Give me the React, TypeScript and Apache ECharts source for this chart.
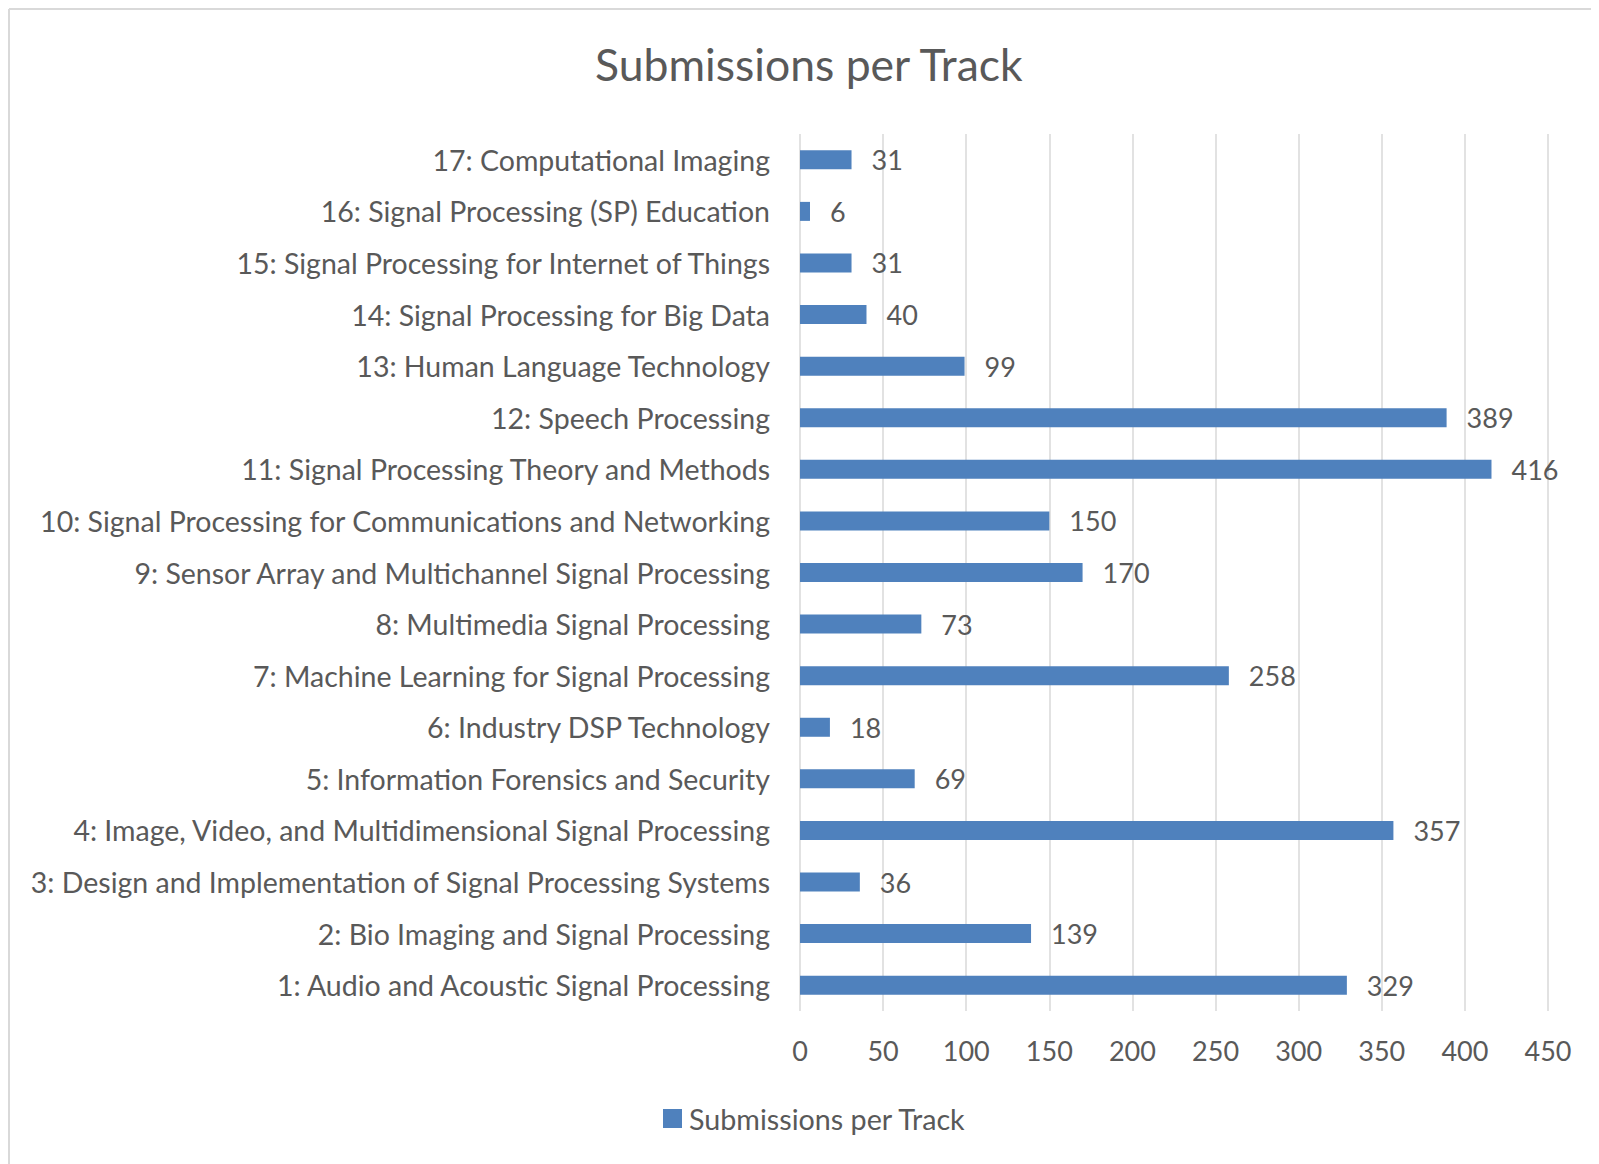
import React, { useEffect, useRef } from "react";
import * as echarts from "echarts";

const categories: string[] = [
  "1: Audio and Acoustic Signal Processing",
  "2: Bio Imaging and Signal Processing",
  "3: Design and Implementation of Signal Processing Systems",
  "4: Image, Video, and Multidimensional Signal Processing",
  "5: Information Forensics and Security",
  "6: Industry DSP Technology",
  "7: Machine Learning for Signal Processing",
  "8: Multimedia Signal Processing",
  "9: Sensor Array and Multichannel Signal Processing",
  "10: Signal Processing for Communications and Networking",
  "11: Signal Processing Theory and Methods",
  "12: Speech Processing",
  "13: Human Language Technology",
  "14: Signal Processing for Big Data",
  "15: Signal Processing for Internet of Things",
  "16: Signal Processing (SP) Education",
  "17: Computational Imaging",
];

const submissions: number[] = [329, 139, 36, 357, 69, 18, 258, 73, 170, 150, 416, 389, 99, 40, 31, 6, 31];

const seriesName = "Submissions per Track";
const titleText = "Submissions per Track";

const FONT = "Lato, 'Open Sans', sans-serif";
const TEXT = "#595959";
const BAR = "#4f81bd";
const GRID = "#d9d9d9";

export default function App() {
  const ref = useRef<HTMLDivElement>(null);
  useEffect(() => {
    if (!ref.current) return;
    const chart = echarts.init(ref.current, undefined, { renderer: "svg" });
    chart.setOption({
      animation: false,
      backgroundColor: "#ffffff",
      textStyle: { fontFamily: FONT },
      title: {
        text: titleText,
        left: 582,
        top: 28,
        textStyle: { fontFamily: FONT, fontSize: 44.5, fontWeight: "normal", color: TEXT },
      },
      legend: {
        data: [seriesName],
        left: 650,
        top: 1091,
        icon: "rect",
        itemWidth: 19,
        itemHeight: 19,
        itemGap: 8,
        textStyle: { fontFamily: FONT, fontSize: 28.7, color: TEXT, padding: [0, 0, 0, 2] },
      },
      graphic: [
        { type: "line", shape: { x1: 1, y1: 1, x2: 1600, y2: 1 }, style: { stroke: GRID, lineWidth: 2 } },
        { type: "line", shape: { x1: 1, y1: 1, x2: 1, y2: 1160 }, style: { stroke: GRID, lineWidth: 2 } },
      ],
      grid: { left: 792, right: 51, top: 126, bottom: 153, containLabel: false },
      xAxis: {
        type: "value",
        min: 0,
        max: 450,
        interval: 50,
        axisLine: { show: false },
        axisTick: { show: false },
        splitLine: { show: true, lineStyle: { color: GRID, width: 1.5 } },
        axisLabel: { color: TEXT, fontFamily: FONT, fontSize: 27, margin: 26 },
      },
      yAxis: {
        type: "category",
        data: categories,
        axisLine: { show: false },
        axisTick: { show: false },
        axisLabel: { color: TEXT, fontFamily: FONT, fontSize: 28.5, margin: 30 },
      },
      series: [
        {
          name: seriesName,
          type: "bar",
          data: submissions,
          barWidth: 19,
          itemStyle: { color: BAR },
          label: {
            show: true,
            position: "right",
            distance: 20,
            color: TEXT,
            fontFamily: FONT,
            fontSize: 27,
          },
        },
      ],
    });
    return () => chart.dispose();
  }, []);
  return <div ref={ref} style={{ width: 1591, height: 1156 }} />;
}
